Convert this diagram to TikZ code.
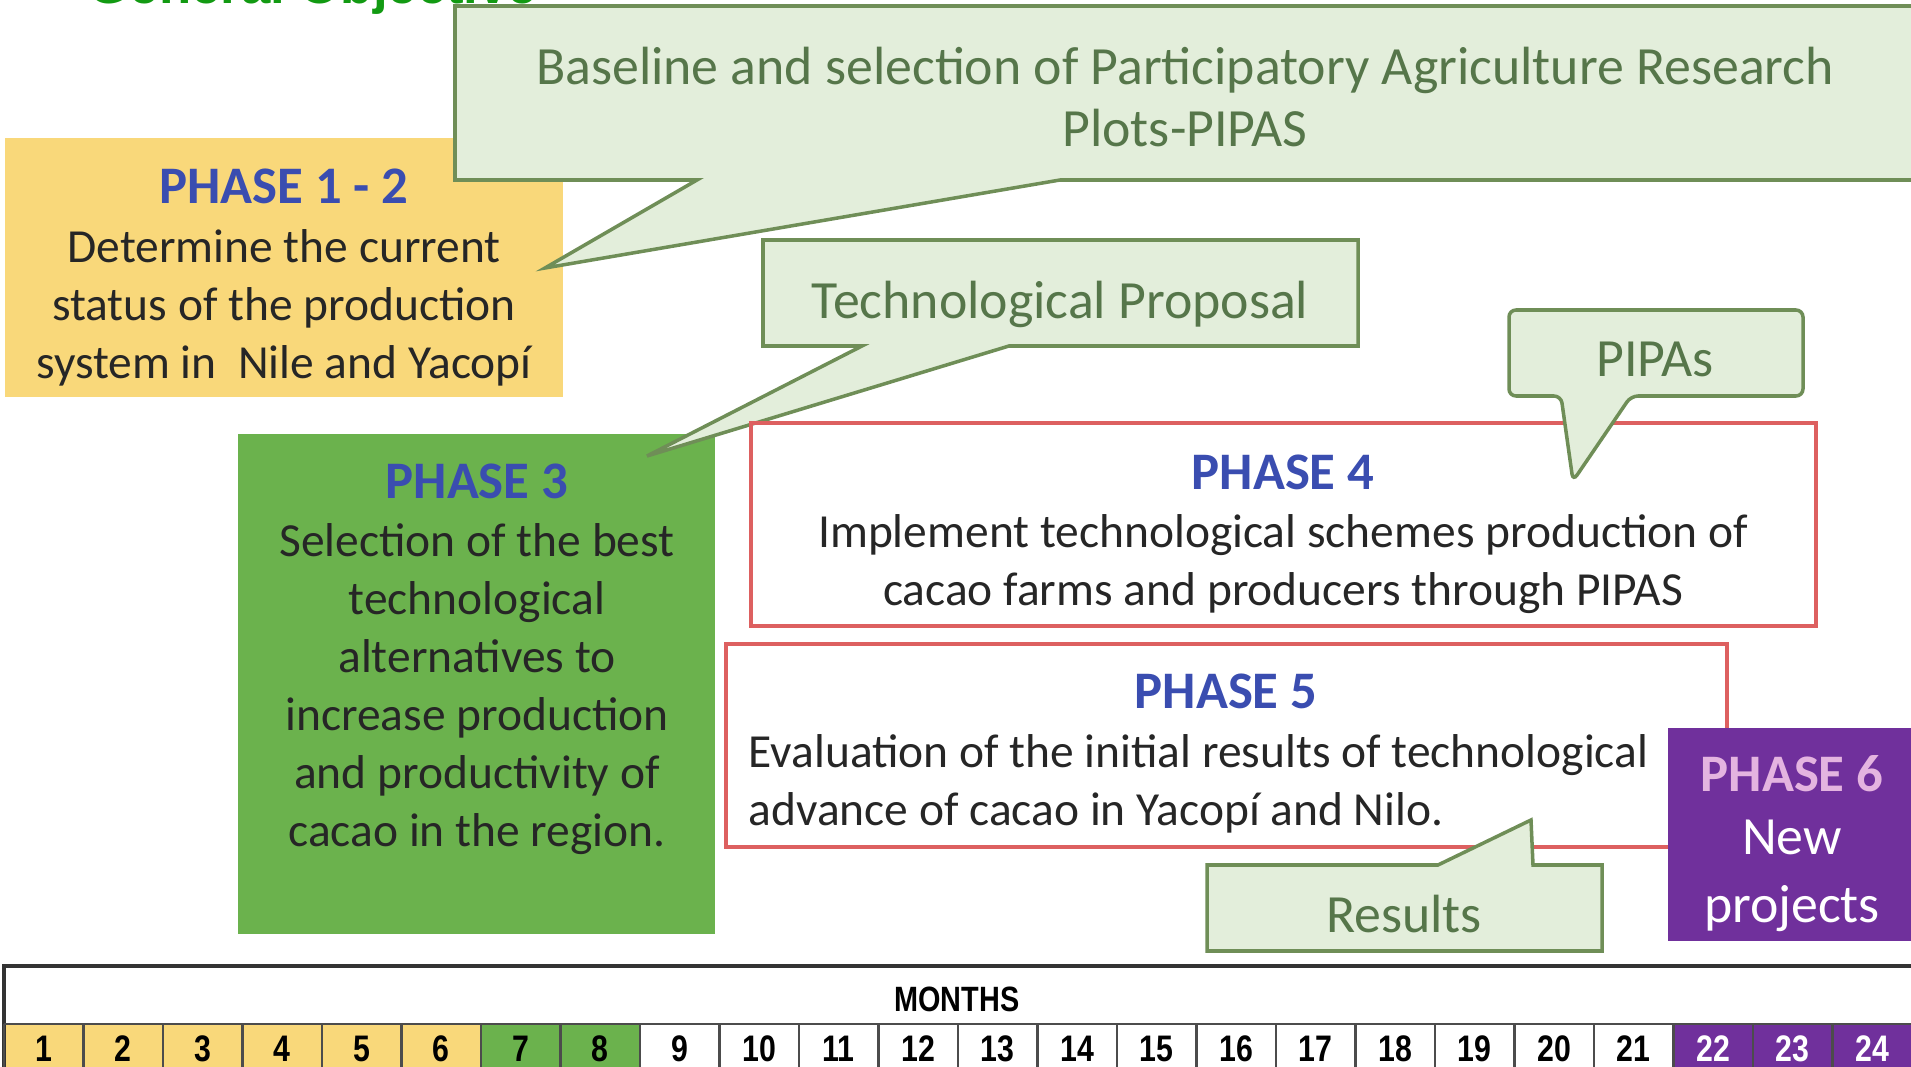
\documentclass[tikz,border=0pt]{standalone}
\usepackage{fontspec}
\setmainfont{Carlito}
\newfontfamily\headfont{Liberation Sans}
\newfontfamily\monthfont[FakeStretch=0.82]{Liberation Sans}
\usepackage{tikz}

\definecolor{phaseyellow}{HTML}{F9D87A}
\definecolor{phasegreen}{HTML}{6BB24D}
\definecolor{phasepurple}{HTML}{70309C}
\definecolor{phaseblue}{HTML}{3A4DB0}
\definecolor{phasepink}{HTML}{E4B4E0}
\definecolor{callfill}{HTML}{E3EEDB}
\definecolor{callline}{HTML}{6F8E57}
\definecolor{callink}{HTML}{56764A}
\definecolor{boxred}{HTML}{DD6060}
\definecolor{topgreen}{HTML}{129A12}
\definecolor{bodyink}{HTML}{262626}

\tikzset{
    phasetitle/.style = {font = \fontsize{15}{18}\bfseries\selectfont, text = phaseblue, inner sep = 0pt},
    bodytext/.style = {font = \fontsize{13.5}{16.5}\selectfont, text = bodyink, align = center, inner sep = 0pt},
    calltext/.style = {font = \fontsize{15.3}{17.4}\selectfont, text = callink, align = center, inner sep = 0pt},
    callout/.style = {fill = callfill, draw = callline, line width = 1pt, line join = miter},
    redbox/.style = {draw = boxred, line width = 1pt},
    gridline/.style = {draw = black!70, line width = .6pt},
    monthnum/.style = {font = \monthfont\fontsize{10.5}{12}\bfseries\selectfont, inner sep = 0pt}
}

\begin{document}
\begin{tikzpicture}[x = 0.01cm, y = -0.01cm]
    \useasboundingbox (0, 0) rectangle (1911, 1067);
    \clip (0, 0) rectangle (1911, 1067);

    % title, cut by the top edge
    \node [font = \headfont\fontsize{15}{18}\bfseries\selectfont, text = topgreen, anchor = base, inner sep = 0pt] (objective) at (313, 4) {General Objective};

    % phase 1 - 2
    \fill [phaseyellow] (5, 138) rectangle (563, 397);
    \node [phasetitle] (t12) at (284, 186) {PHASE 1 - 2};
    \node [bodytext] (b12) at (284, 308) {Determine the current\\status of the production\\system in\ \ Nile and Yacop\'{\i}};

    \draw [callout] (455, 6) -- (1930, 6) -- (1930, 180) -- (1060, 180) -- (545, 268) -- (697, 180) -- (455, 180) -- cycle;
    \node [calltext] (baseline) at (1185, 97) {Baseline and selection of Participatory Agriculture Research\\Plots-PIPAS};

    % phase 3
    \fill [phasegreen] (238, 434) rectangle (715, 934);
    \node [phasetitle] (t3) at (477, 481) {PHASE 3};
    \node [bodytext] (b3) at (477, 689) {Selection of the best\\technological\\alternatives to\\increase production\\and productivity of\\cacao in the region.};

    \draw [callout] (763, 240) -- (1358, 240) -- (1358, 346) -- (1009, 346) -- (647, 456) -- (862, 346) -- (763, 346) -- cycle;
    \node [calltext] (proposal) at (1060, 304) {Technological Proposal};

    % phase 4
    \draw [redbox] (751, 423) rectangle (1816, 626);
    \node [phasetitle] (t4) at (1283, 472) {PHASE 4};
    \node [bodytext] (b4) at (1283, 564) {Implement technological schemes production of\\cacao farms and producers through PIPAS};

    \draw [callout, rounded corners = 2pt] (1509, 310) -- (1803, 310) -- (1803, 396) -- (1631, 396) -- (1573, 481) -- (1561, 396) -- (1509, 396) -- cycle;
    \node [calltext] (pipas) at (1655, 359) {PIPAs};

    % phase 5
    \draw [redbox] (726, 644) rectangle (1727, 847);
    \node [phasetitle] (t5) at (1226, 691) {PHASE 5};
    \node [bodytext, align = left, anchor = west] (b5) at (748, 784) {Evaluation of the initial results of technological\\advance of cacao in Yacop\'{\i} and Nilo.};

    \draw [callout] (1207, 865) -- (1438, 865) -- (1531, 820) -- (1533, 865) -- (1602, 865) -- (1602, 951) -- (1207, 951) -- cycle;
    \node [calltext] (results) at (1404, 914) {Results};

    % phase 6
    \fill [phasepurple] (1668, 728) rectangle (1915, 941);
    \node [phasetitle, text = phasepink] (t6) at (1792, 774) {PHASE 6};
    \node [font = \fontsize{15.3}{19.5}\selectfont, text = white, align = center, inner sep = 0pt] (b6) at (1792, 876) {New\\projects};

    % months
    \fill [phaseyellow] (4, 1024) rectangle (481, 1080);
    \fill [phasegreen] (481, 1024) rectangle (640, 1080);
    \fill [phasepurple] (1673.5, 1024) rectangle (1915, 1080);
    \draw [line width = 1pt, draw = black!80] (4, 1080) -- (4, 966) -- (1915, 966);
    \draw [gridline] (4, 1024) -- (1915, 1024);
    \node [font = \monthfont\fontsize{10}{12}\bfseries\selectfont, inner sep = 0pt] (months) at (957, 999) {MONTHS};
    \foreach \m in {1,...,24} {
        \draw [gridline] ({4 + (\m - 1)*79.5}, 1024) -- ++(0, 60);
        \node [monthnum] (m\m) at ({4 + (\m - .5)*79.5}, 1049) {\ifnum\m>21 \color{white}\fi\m};
    }

\end{tikzpicture}
\end{document}
